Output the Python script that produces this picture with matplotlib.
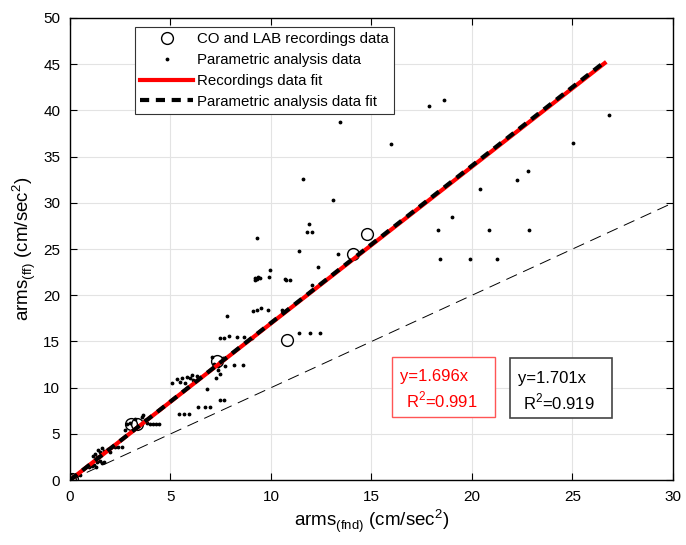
import numpy as np
import matplotlib.pyplot as plt
from matplotlib.patches import Rectangle

plt.rcParams['font.family'] = ['Liberation Sans', 'DejaVu Sans']

# recordings data (open circles)
rec_x = [0.0, 0.08, 3.05, 3.35, 7.3, 10.8, 14.1, 14.8]
rec_y = [0.0, 0.1, 6.1, 6.1, 12.9, 15.2, 24.5, 26.6]

# parametric analysis data (dots)
par_x = [0.3, 0.5, 0.95, 1.1, 1.2, 1.3, 1.35, 1.5, 1.6, 1.7,
         1.15, 1.25, 1.33, 1.41, 1.5, 1.58, 1.7, 1.82, 1.9, 2.0,
         2.24, 2.4, 2.57, 2.74, 2.85, 2.99, 3.23, 3.57, 3.65, 3.73,
         3.85, 3.98, 4.15, 4.28, 4.44,
         5.09, 5.34, 5.47, 5.59, 5.72, 5.84, 5.97, 6.05, 6.14, 6.30,
         5.42, 5.67, 5.92, 6.35, 6.72, 6.97, 7.46, 7.68, 6.83,
         7.05, 7.16, 7.38, 7.38, 7.46, 7.25, 7.63, 7.71, 8.16, 8.62,
         7.46, 7.68, 7.91, 8.29, 8.67, 9.07, 7.8,
         9.09, 9.29, 9.50, 9.83, 9.20, 9.29, 9.37, 9.45, 9.20, 9.95, 9.90,
         9.29, 10.56, 10.71, 10.75, 10.95, 11.38, 11.94, 12.44,
         11.41, 11.61, 11.89, 11.78, 12.06, 12.04, 12.32, 13.07, 13.32,
         13.43, 15.97, 17.86, 18.62, 18.31, 18.41, 19.0, 19.9, 20.38,
         20.86, 21.23, 22.24, 22.8, 22.85, 25.04, 26.83]
par_y = [0.4, 0.6, 1.4, 1.5, 1.6, 1.4, 2.0, 2.1, 1.9, 2.0,
         2.6, 2.8, 2.5, 3.25, 3.0, 3.43, 3.1, 3.3, 3.4, 3.0,
         3.6, 3.6, 3.6, 5.4, 6.1, 6.2, 6.6, 6.8, 7.0, 6.5,
         6.2, 6.1, 6.1, 6.1, 6.1,
         10.5, 10.9, 10.6, 11.0, 10.5, 11.2, 11.0, 11.4, 10.8, 11.3,
         7.2, 7.2, 7.2, 7.9, 7.9, 7.9, 8.66, 8.66, 9.9,
         13.3, 12.6, 12.3, 11.9, 11.5, 11.1, 13.2, 12.4, 12.5, 12.5,
         15.4, 15.4, 15.6, 15.5, 15.5, 15.4, 17.8,
         18.3, 18.4, 18.6, 18.4, 21.9, 21.8, 22.0, 21.9, 21.6, 22.7, 22.0,
         26.2, 18.4, 21.8, 21.6, 21.6, 15.9, 15.9, 15.9,
         24.8, 32.6, 27.7, 26.9, 26.9, 21.1, 23.1, 30.3, 24.5,
         38.8, 36.4, 40.5, 41.1, 27.1, 23.9, 28.5, 23.9, 31.5,
         27.1, 23.9, 32.5, 33.4, 27.1, 36.5, 39.5]

# fits
rec_slope = 1.696
par_slope = 1.701
fit_x = np.array([0, 26.6])

fig = plt.figure(figsize=(6.86, 5.45), dpi=100)
ax = fig.add_axes([0.102, 0.119, 0.879, 0.848])

ax.plot([0, 30], [0, 30], '--', color='black', lw=0.7, dashes=(12, 7))
ax.plot(rec_x, rec_y, 'o', mfc='none', mec='black', ms=8.5, mew=1.0,
        label='CO and LAB recordings data')
ax.plot(par_x, par_y, '.', color='black', ms=3.5,
        label='Parametric analysis data')
ax.plot(fit_x, rec_slope * fit_x, '-', color='red', lw=3,
        label='Recordings data fit')
ax.plot(fit_x, par_slope * fit_x, '--', color='black', lw=3, dashes=(2.2, 1.6),
        label='Parametric analysis data fit')

ax.set_xlim(0, 30)
ax.set_ylim(0, 50)
ax.set_xticks(np.arange(0, 31, 5))
ax.set_yticks(np.arange(0, 51, 5))
ax.grid(True, color='#e3e3e3', lw=0.8)
ax.set_axisbelow(True)
ax.tick_params(direction='in', labelsize=11, top=True, right=True, length=5, pad=7)
for s in ax.spines.values():
    s.set_linewidth(1.0)

ax.set_xlabel('arms$_{\\mathregular{(fnd)}}$ (cm/sec$^{\\mathregular{2}}$)', fontsize=13.5, labelpad=3)
ax.set_ylabel('arms$_{\\mathregular{(ff)}}$ (cm/sec$^{\\mathregular{2}}$)', fontsize=13.5, labelpad=4)

leg = ax.legend(loc='upper left', bbox_to_anchor=(0.108, 0.98), fontsize=10.8,
                fancybox=False, framealpha=1, edgecolor='#333333',
                handlelength=3.5, handletextpad=0.3, borderpad=0.35,
                labelspacing=0.45, borderaxespad=0)
leg.get_frame().set_linewidth(0.8)

# annotation boxes
ax.add_patch(Rectangle((16.02, 6.8), 5.12, 6.5, fill=True, fc='white',
                       ec='#ff5555', lw=1, zorder=5))
ax.add_patch(Rectangle((21.89, 6.7), 5.08, 6.5, fill=True, fc='white',
                       ec='#444444', lw=1.2, zorder=5))
ax.text(16.42, 11.26, 'y=1.696x', color='red', fontsize=12, va='center', zorder=6)
ax.text(16.72, 8.66, 'R$^{\\mathregular{2}}$=0.991', color='red', fontsize=12, va='center', zorder=6)
ax.text(22.29, 11.0, 'y=1.701x', color='black', fontsize=12, va='center', zorder=6)
ax.text(22.54, 8.44, 'R$^{\\mathregular{2}}$=0.919', color='black', fontsize=12, va='center', zorder=6)

fig.savefig('out.png', dpi=100)
